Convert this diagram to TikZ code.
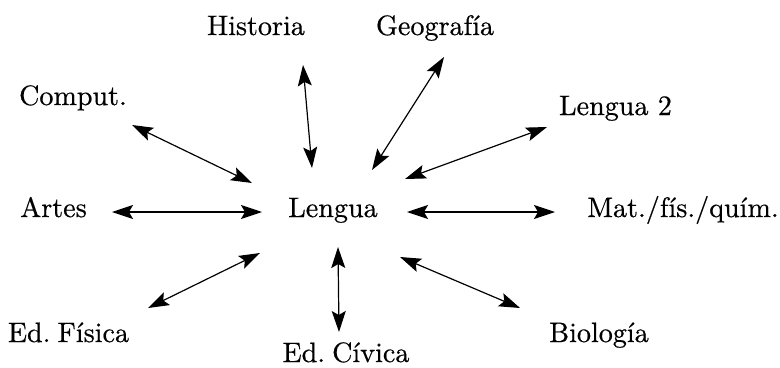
\documentclass[tikz,border=0pt]{standalone}
\usepackage{fontspec}
\newfontfamily\subjfont{lmroman10-regular.otf}[FakeBold=0.5]
\usetikzlibrary{arrows.meta}
\newcommand\tightsp{\hspace{0.25em}}
\begin{document}
\begin{tikzpicture}[x=1bp,y=-1bp,
  subject/.style={anchor=base,inner sep=0pt,font=\subjfont\fontsize{28.2}{34}\selectfont},
  link/.style={line width=1.2bp,{Stealth[length=21bp,width=14bp,inset=4bp]}-{Stealth[length=21bp,width=14bp,inset=4bp]}}]
\useasboundingbox (0,0) rectangle (780,367);

% subjects
\node[subject] (lengua)  at (333,217)   {Lengua};
\node[subject] (artes)   at (53.5,217)  {Artes};
\node[subject] (mat)     at (683,217)   {Mat./fís./quím.};
\node[subject] (hist)    at (256,35)    {Historia};
\node[subject] (geo)     at (435,35)    {Geografía};
\node[subject] (comput)  at (73,105)    {Comput.};
\node[subject] (lengua2) at (615.5,115) {Lengua 2};
\node[subject] (fisica)  at (68.5,342)  {Ed.\tightsp Física};
\node[subject] (civica)  at (346,362)   {Ed.\tightsp Cívica};
\node[subject] (bio)     at (599,342)   {Biología};

% arrow ends
\coordinate (comput-a)  at (132,125); \coordinate (comput-b)  at (252,183);
\coordinate (hist-a)    at (303,65);  \coordinate (hist-b)    at (312,168);
\coordinate (geo-a)     at (444,57);  \coordinate (geo-b)     at (372,170);
\coordinate (lengua2-a) at (547,127); \coordinate (lengua2-b) at (405,179);
\coordinate (artes-a)   at (112,212); \coordinate (artes-b)   at (262,212);
\coordinate (mat-a)     at (555,212); \coordinate (mat-b)     at (407,212);
\coordinate (fisica-a)  at (148,308); \coordinate (fisica-b)  at (260,253);
\coordinate (civica-a)  at (339,332); \coordinate (civica-b)  at (338,247);
\coordinate (bio-a)     at (520,308); \coordinate (bio-b)     at (400,257);

% two-way links
\foreach \s in {comput,hist,geo,lengua2,artes,mat,fisica,civica,bio}
  \draw[link] (\s-a) -- (\s-b);
\end{tikzpicture}
\end{document}
